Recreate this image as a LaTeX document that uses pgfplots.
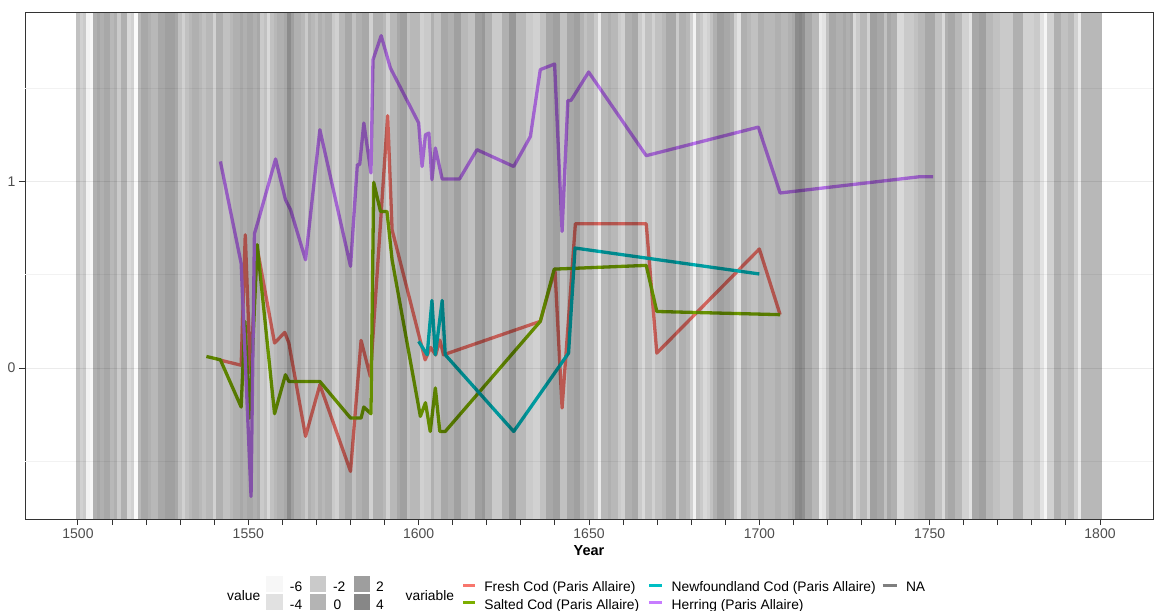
\documentclass[border=0pt]{standalone}
\usepackage{pgfplots}
\pgfplotsset{compat=1.18}
\usepackage{pgfplotstable}
\usepackage{fontspec}
\setmainfont{Liberation Sans}
\definecolor{fresh}{HTML}{F8766D}
\definecolor{salted}{HTML}{7CAE00}
\definecolor{newf}{HTML}{00BFC4}
\definecolor{herring}{HTML}{C77CFF}
\definecolor{gridmaj}{HTML}{EBEBEB}
\definecolor{gridmin}{HTML}{F2F2F2}
\definecolor{axisgrey}{HTML}{333333}
\definecolor{ticktext}{HTML}{4D4D4D}
\definecolor{nagrey}{HTML}{7F7F7F}

% background value per year
\pgfplotstableread{
year v
1500 -1.2
1501 -2.6
1502 -2
1503 -5.5
1504 -6
1505 0.3
1506 1
1507 0.3
1508 1
1509 1
1510 -0.4
1511 0.3
1512 -2
1513 0.3
1514 0.3
1515 -3.3
1516 -2.6
1517 -6.2
1518 -0.4
1519 1
1520 1
1521 0.3
1522 -0.4
1523 -0.4
1524 1
1525 1
1526 1.7
1527 1.7
1528 1.7
1529 1
1530 -1.2
1531 -2.6
1532 -1.2
1533 -0.4
1534 0.3
1535 0.3
1536 -0.4
1537 -1.2
1538 -0.4
1539 -0.4
1540 -2.6
1541 0.3
1542 0.3
1543 -1.2
1544 -1.2
1545 -0.4
1546 0.3
1547 0.3
1548 1
1549 0.3
1550 1
1551 1
1552 0.3
1553 1
1554 -2
1555 -1.2
1556 -3.3
1557 -1.2
1558 -0.4
1559 0.3
1560 0.3
1561 1
1562 3.5
1563 1.7
1564 0.3
1565 0.3
1566 -0.4
1567 -2
1568 0.3
1569 -0.4
1570 -1.2
1571 0.3
1572 -0.4
1573 0.3
1574 0.3
1575 -2
1576 -2.6
1577 -0.4
1578 -0.4
1579 1
1580 1
1581 -1.2
1582 0.3
1583 0.3
1584 1
1585 1
1586 -2.6
1587 0.3
1588 0.3
1589 0.3
1590 -0.4
1591 -2.6
1592 -0.4
1593 -0.4
1594 1
1595 1.7
1596 1.7
1597 -1.2
1598 -0.4
1599 -0.4
1600 -0.4
1601 -2.6
1602 -2
1603 -2
1604 0.3
1605 -1.2
1606 -1.2
1607 1
1608 1
1609 0.3
1610 0.3
1611 1.7
1612 1.7
1613 -0.4
1614 -0.4
1615 -1.2
1616 -1.2
1617 1.7
1618 1.7
1619 2.4
1620 0.3
1621 0.3
1622 -2
1623 -2
1624 -2
1625 0.3
1626 0.3
1627 2.4
1628 2.4
1629 -0.4
1630 -0.4
1631 -0.4
1632 -2
1633 -2
1634 -2.6
1635 -2.6
1636 -1.2
1637 -1.2
1638 1
1639 1
1640 1.7
1641 1.7
1642 -1.2
1643 -1.2
1644 1
1645 1
1646 1.7
1647 1.7
1648 0
1649 -1.2
1650 -0.4
1651 -0.4
1652 -2
1653 -4.8
1654 -0.4
1655 -0.4
1656 0.3
1657 -0.4
1658 -0.4
1659 -2
1660 -2.6
1661 0.3
1662 0.3
1663 1
1664 1
1665 -2
1666 -3.3
1667 -1.2
1668 -1.2
1669 -2.6
1670 -1.2
1671 -1.2
1672 -0.4
1673 1
1674 1
1675 1
1676 -2
1677 0.3
1678 0.3
1679 -0.4
1680 -2.6
1681 -5.5
1682 -1.2
1683 -2
1684 -3.3
1685 -2.6
1686 -1.2
1687 0.3
1688 1.7
1689 1.7
1690 1
1691 1
1692 0.3
1693 -2.6
1694 -4.1
1695 0.3
1696 0.3
1697 -0.4
1698 -1.2
1699 -1.2
1700 0.3
1701 0.3
1702 -0.4
1703 -0.4
1704 -0.4
1705 0.3
1706 0.3
1707 -0.4
1708 -0.4
1709 0.3
1710 1
1711 3.5
1712 3.9
1713 3.1
1714 1
1715 1
1716 -0.4
1717 -0.4
1718 -4.8
1719 -4.1
1720 -1.2
1721 1
1722 1
1723 0.3
1724 0.3
1725 1
1726 0.3
1727 1
1728 -3.3
1729 -2
1730 -0.4
1731 -0.4
1732 -2.6
1733 1.7
1734 1.7
1735 1
1736 1
1737 -1.2
1738 1
1739 0.3
1740 0.3
1741 -3.3
1742 -3.3
1743 -2
1744 -2
1745 -2
1746 -1.2
1747 -0.4
1748 -0.4
1749 1
1750 1
1751 1
1752 -1.2
1753 -1.2
1754 -3.3
1755 0.3
1756 1
1757 1
1758 -0.4
1759 -0.4
1760 -2.6
1761 -2.6
1762 -4.1
1763 1
1764 1
1765 1.7
1766 1.7
1767 -0.4
1768 -0.4
1769 -1.2
1770 -1.2
1771 -2
1772 -2
1773 -2
1774 -2
1775 0.3
1776 0.3
1777 0.3
1778 -2.6
1779 -2.6
1780 -2.6
1781 -2
1782 -2
1783 -4.1
1784 -5.8
1785 -2.6
1786 -2.6
1787 0.3
1788 0.3
1789 -1.2
1790 -1.2
1791 -0.4
1792 -0.4
1793 -2.6
1794 -4.8
1795 -0.4
1796 -0.4
1797 -0.4
1798 -0.4
1799 -0.4
1800 -0.4
}\bgtable

\begin{document}
\begin{tikzpicture}[x=1pt,y=1pt]
\useasboundingbox (0,0) rectangle (1155,610);
\begin{axis}[
  at={(25pt,91pt)}, anchor=south west,
  scale only axis, width=1128pt, height=506pt,
  xmin=1484.45, xmax=1815.55, ymin=-0.809, ymax=1.9025,
  xtick={1500,1550,...,1800},
  minor xtick={1510,1520,...,1790},
  ytick={0,1},
  ymajorgrids,
  major grid style={gridmaj, line width=0.9pt},
  extra y ticks={-0.5,0.5,1.5},
  extra y tick labels={},
  extra y tick style={major tick length=0pt, ymajorgrids, major grid style={gridmin, line width=0.6pt}},
  tick align=outside, tick pos=left,
  major tick length=6pt, minor tick length=6pt,
  every tick/.style={axisgrey, line width=1pt},
  axis line style={axisgrey, line width=1pt},
  ticklabel style={font=\fontsize{14}{16}\selectfont, text=ticktext},
  /pgf/number format/assume math mode=true,
  /pgf/number format/1000 sep={},
  xlabel={Year},
  every axis x label/.style={at={(axis description cs:0.5,0)}, anchor=center, yshift=-32pt, font=\fontsize{14.5}{16}\selectfont\bfseries},
  point meta min=-6.682, point meta max=16.045,
  clip=true,
]
% Fresh Cod
\addplot[fresh, line width=3.3pt, line join=round] coordinates {
(1541.8,0.042) (1547.9,0.015) (1549.1,0.714) (1550.6,-0.027) (1552.6,0.643)
(1557.7,0.134) (1560.7,0.191) (1561.9,0.134) (1566.8,-0.366) (1571,-0.09)
(1580,-0.554) (1583.1,0.148) (1585.8,-0.045) (1590.9,1.352) (1592.2,0.741)
(1601.9,0.044) (1603.5,0.11) (1605,0.07) (1606.2,0.15) (1607.3,0.071)
(1635.7,0.25) (1640,0.53) (1642.1,-0.214) (1646,0.773) (1666.8,0.773)
(1669.9,0.08) (1700,0.638) (1706.1,0.286)};
% Salted Cod
\addplot[salted, line width=3.3pt, line join=round] coordinates {
(1537.7,0.062) (1541.8,0.044) (1547.9,-0.209) (1549,0.25) (1550.4,-0.268)
(1552.6,0.661) (1557.7,-0.245) (1560.9,-0.036) (1561.9,-0.072) (1571,-0.072)
(1580,-0.268) (1583.1,-0.268) (1583.9,-0.209) (1586,-0.245) (1586.8,0.995)
(1588.8,0.839) (1590.7,0.839) (1592.2,0.58) (1600.5,-0.259) (1602,-0.186)
(1603.4,-0.34) (1604.9,-0.107) (1606.2,-0.34) (1607.8,-0.34) (1635.7,0.25)
(1639.8,0.53) (1666.8,0.55) (1669.9,0.303) (1706.1,0.286)};
% Newfoundland Cod
\addplot[newf, line width=3.3pt, line join=round] coordinates {
(1600,0.143) (1602.5,0.071) (1603.9,0.362) (1604.9,0.071) (1606.9,0.362)
(1607.8,0.071) (1627.9,-0.34) (1644,0.08) (1645.9,0.643) (1700,0.504)};
% Herring
\addplot[herring, line width=3.3pt, line join=round] coordinates {
(1541.8,1.107) (1547.9,0.56) (1550.8,-0.688) (1551.8,0.72) (1553,0.795)
(1558,1.12) (1560.9,0.902) (1562.4,0.848) (1566.8,0.58) (1571,1.277)
(1580,0.545) (1582,1.09) (1582.7,1.09) (1583.9,1.313) (1586,1.045)
(1586.6,1.652) (1589,1.781) (1591.7,1.608) (1600,1.313) (1601,1.08)
(1602,1.25) (1603,1.259) (1603.9,1.009) (1604.9,1.179) (1606.9,1.013)
(1612,1.013) (1617.1,1.17) (1627.9,1.08) (1632.8,1.241) (1635.7,1.599)
(1639.9,1.629) (1642.1,0.732) (1643.8,1.434) (1644.7,1.434) (1649.9,1.586)
(1666.8,1.138) (1699.7,1.291) (1706.1,0.938) (1747,1.025) (1751,1.025)};
% background year bands (translucent black, drawn on top)
\addplot[scatter, only marks, mark=|, mark size=253pt, point meta=explicit,
  scatter/@pre marker code/.code={%
    \pgfmathsetmacro\al{0.001*\pgfplotspointmetatransformed}%
    \scope[draw=black, draw opacity=\al, line width=3.407pt]},
  scatter/@post marker code/.code={\endscope}]
  table[x=year, y expr=0.54675, meta=v]{\bgtable};
\end{axis}
% legend: value
\begin{scope}[every node/.style={inner sep=0pt, font=\fontsize{13.8}{15}\selectfont}]
\node[anchor=base west] at (227,9.2) {value};
\fill[black, fill opacity=0.03] (266.4,18.1) rectangle (282.6,34.2);
\fill[black, fill opacity=0.118] (266.4,0) rectangle (282.6,16.3);
\fill[black, fill opacity=0.206] (309.5,18.1) rectangle (325.6,34.2);
\fill[black, fill opacity=0.294] (309.5,0) rectangle (325.6,16.3);
\fill[black, fill opacity=0.382] (354.3,18.1) rectangle (369.8,34.2);
\fill[black, fill opacity=0.47] (354.3,0) rectangle (369.8,16.3);
\node[anchor=base west] at (289.7,18.5) {-6};
\node[anchor=base west] at (289.7,1) {-4};
\node[anchor=base west] at (332.8,18.5) {-2};
\node[anchor=base west] at (333.5,1) {0};
\node[anchor=base west] at (375.9,18.5) {2};
\node[anchor=base west] at (375.9,1) {4};
% legend: variable
\node[anchor=base west] at (405.5,9.2) {variable};
\draw[fresh, line width=2.5pt] (463.3,24.7) -- (475.1,24.7);
\draw[salted, line width=2.5pt] (463.3,7.5) -- (475.1,7.5);
\node[anchor=base west] at (484.1,18.5) {Fresh Cod (Paris Allaire)};
\node[anchor=base west] at (484.1,1) {Salted Cod (Paris Allaire)};
\draw[newf, line width=2.5pt] (649.2,24.7) -- (661.8,24.7);
\draw[herring, line width=2.5pt] (649.2,7.5) -- (661.8,7.5);
\node[anchor=base west] at (671.5,18.5) {Newfoundland Cod (Paris Allaire)};
\node[anchor=base west] at (671.5,1) {Herring (Paris Allaire)};
\draw[nagrey, line width=2.5pt] (882.5,24.7) -- (896.9,24.7);
\node[anchor=base west] at (905.8,18.5) {NA};
\end{scope}
\end{tikzpicture}
\end{document}
